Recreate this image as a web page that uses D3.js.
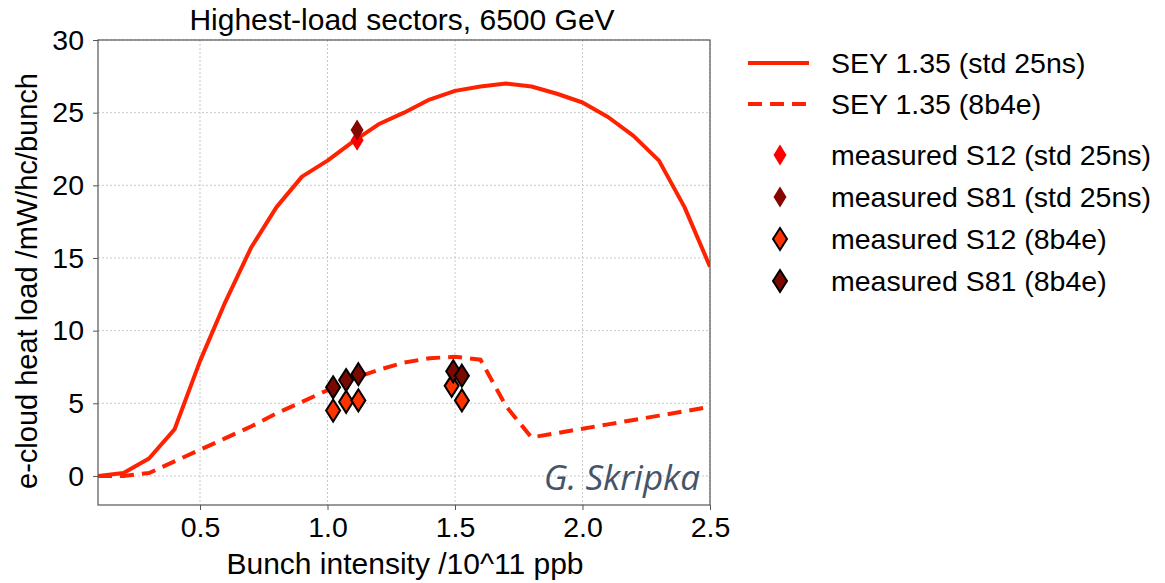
<!DOCTYPE html>
<html>
<head>
<meta charset="utf-8">
<script src="https://cdn.jsdelivr.net/npm/d3@7"></script>
<style>
  html, body { margin: 0; padding: 0; background: #fff; }
  svg { display: block; }
  text { font-family: "Liberation Sans", Arial, sans-serif; fill: #000; }
</style>
</head>
<body>
<svg id="chart" width="1165" height="583"></svg>
<script>
// Simulated heat load vs bunch intensity (SEY 1.35)
const intensity = [0.1, 0.2, 0.3, 0.4, 0.5, 0.6, 0.7, 0.8, 0.9, 1.0, 1.1, 1.2, 1.3,
                   1.4, 1.5, 1.6, 1.7, 1.8, 1.9, 2.0, 2.1, 2.2, 2.3, 2.4, 2.5];
const simStd25 = [0.0, 0.2, 1.2, 3.2, 7.9, 12.0, 15.7, 18.5, 20.6, 21.7, 23.0, 24.2, 25.0,
                  25.9, 26.5, 26.8, 27.0, 26.8, 26.3, 25.7, 24.7, 23.4, 21.7, 18.5, 14.4];
const sim8b4e = [0.0, 0.0, 0.2, 1.0, 1.8, 2.6, 3.4, 4.3, 5.1, 5.9, 6.7, 7.3, 7.8,
                 8.1, 8.2, 8.0, 4.8, 2.65, 2.95, 3.25, 3.55, 3.85, 4.15, 4.45, 4.75];

// Measurements
const measS12std = [{x: 1.116, y: 23.1}];
const measS81std = [{x: 1.116, y: 23.8}];
const measS12_8b4e = [{x: 1.022, y: 4.5}, {x: 1.073, y: 5.1}, {x: 1.121, y: 5.2},
                      {x: 1.487, y: 6.2}, {x: 1.527, y: 5.2}];
const measS81_8b4e = [{x: 1.022, y: 6.1}, {x: 1.073, y: 6.6}, {x: 1.121, y: 7.0},
                      {x: 1.493, y: 7.2}, {x: 1.527, y: 6.9}];

const xTicks = [0.5, 1.0, 1.5, 2.0, 2.5];
const yTicks = [0, 5, 10, 15, 20, 25, 30];

const legendLabels = ["SEY 1.35 (std 25ns)", "SEY 1.35 (8b4e)",
  "measured S12 (std 25ns)", "measured S81 (std 25ns)",
  "measured S12 (8b4e)", "measured S81 (8b4e)"];

const lineColor = "#ff2200";
const colS12std = "#ff0000", colS81std = "#850500";
const colS12b = "#ff3300", colS81b = "#7a0a00";

const svg = d3.select("#chart");
const plot = {left: 98, right: 710, top: 40, bottom: 505};

const x = d3.scaleLinear().domain([0.1, 2.5]).range([plot.left, plot.right]);
const y = d3.scaleLinear().domain([-2, 30]).range([plot.bottom, plot.top]);

// grid
const grid = svg.append("g");
grid.selectAll(".gx").data(xTicks).enter().append("line")
  .attr("x1", d => x(d)).attr("x2", d => x(d))
  .attr("y1", plot.top).attr("y2", plot.bottom)
  .attr("stroke", "#c8c8c8").attr("stroke-width", 1).attr("stroke-dasharray", "2,2");
grid.selectAll(".gy").data(yTicks).enter().append("line")
  .attr("x1", plot.left).attr("x2", plot.right)
  .attr("y1", d => y(d)).attr("y2", d => y(d))
  .attr("stroke", "#c8c8c8").attr("stroke-width", 1).attr("stroke-dasharray", "2,2");

// clip for curves
svg.append("clipPath").attr("id", "clip").append("rect")
  .attr("x", plot.left).attr("y", plot.top)
  .attr("width", plot.right - plot.left).attr("height", plot.bottom - plot.top);

const line = d3.line().x((d, i) => x(intensity[i])).y(d => y(d));

const curves = svg.append("g").attr("clip-path", "url(#clip)");
curves.append("path").datum(simStd25).attr("d", line)
  .attr("fill", "none").attr("stroke", lineColor).attr("stroke-width", 4)
  .attr("stroke-linejoin", "round");
curves.append("path").datum(sim8b4e).attr("d", line)
  .attr("fill", "none").attr("stroke", lineColor).attr("stroke-width", 4)
  .attr("stroke-dasharray", "14,8");

// thin diamond marker path
function diamond(w, h) {
  return `M0,${-h/2}L${w/2},0L0,${h/2}L${-w/2},0Z`;
}

const marks = svg.append("g");
function drawMarkers(data, fill, stroke, w, h) {
  marks.selectAll(null).data(data).enter().append("path")
    .attr("transform", d => `translate(${x(d.x)},${y(d.y)})`)
    .attr("d", diamond(w, h))
    .attr("fill", fill)
    .attr("stroke", stroke || "none")
    .attr("stroke-width", stroke ? 2 : 0)
    .attr("stroke-linejoin", "miter");
}
drawMarkers(measS12std, colS12std, null, 13, 21);
drawMarkers(measS81std, colS81std, null, 13, 21);
drawMarkers(measS12_8b4e, colS12b, "#000", 14, 22);
drawMarkers(measS81_8b4e, colS81b, "#000", 14, 22);

// axes
const xAxis = d3.axisBottom(x).tickValues(xTicks).tickFormat(d3.format(".1f")).tickSize(5).tickPadding(7);
const yAxis = d3.axisLeft(y).tickValues(yTicks).tickFormat(d3.format("d")).tickSize(5).tickPadding(9);

const gx = svg.append("g").attr("transform", `translate(0,${plot.bottom})`).call(xAxis);
const gy = svg.append("g").attr("transform", `translate(${plot.left},0)`).call(yAxis);
[gx, gy].forEach(g => {
  g.select(".domain").remove();
  g.selectAll(".tick line").attr("stroke", "#555");
  g.selectAll(".tick text").attr("font-size", 28.5).attr("fill", "#000")
    .style("font-family", '"Liberation Sans", Arial, sans-serif');
});

// frame
svg.append("rect")
  .attr("x", plot.left).attr("y", plot.top)
  .attr("width", plot.right - plot.left).attr("height", plot.bottom - plot.top)
  .attr("fill", "none").attr("stroke", "#555").attr("stroke-width", 1.2);

// title and axis labels
svg.append("text").attr("x", 402).attr("y", 30).attr("text-anchor", "middle")
  .attr("font-size", 30).text("Highest-load sectors, 6500 GeV");
svg.append("text").attr("x", 405).attr("y", 574).attr("text-anchor", "middle")
  .attr("font-size", 30).text("Bunch intensity /10^11 ppb");
svg.append("text").attr("transform", `translate(37,281) rotate(-90)`)
  .attr("text-anchor", "middle").attr("font-size", 29)
  .text("e-cloud heat load /mW/hc/bunch");

// author note
svg.append("text").attr("x", 700).attr("y", 490).attr("text-anchor", "end")
  .attr("font-size", 35).attr("font-style", "italic")
  .style("font-family", '"Open Sans", sans-serif').style("fill", "#44546a")
  .text("G. Skripka");

// legend
const leg = svg.append("g");
const legY = [63, 104, 155, 197, 239, 281];
leg.append("line").attr("x1", 748).attr("x2", 809).attr("y1", legY[0]).attr("y2", legY[0])
  .attr("stroke", lineColor).attr("stroke-width", 4);
leg.append("line").attr("x1", 748).attr("x2", 809).attr("y1", legY[1]).attr("y2", legY[1])
  .attr("stroke", lineColor).attr("stroke-width", 4).attr("stroke-dasharray", "14,8");
const legMarks = [
  {fill: colS12std, stroke: null, w: 13, h: 21},
  {fill: colS81std, stroke: null, w: 13, h: 21},
  {fill: colS12b, stroke: "#000", w: 14, h: 22},
  {fill: colS81b, stroke: "#000", w: 14, h: 22}
];
legMarks.forEach((m, i) => {
  leg.append("path").attr("transform", `translate(780,${legY[i + 2]})`)
    .attr("d", diamond(m.w, m.h)).attr("fill", m.fill)
    .attr("stroke", m.stroke || "none").attr("stroke-width", m.stroke ? 2 : 0);
});
legendLabels.forEach((t, i) => {
  leg.append("text").attr("x", 831).attr("y", legY[i]).attr("dy", "0.35em")
    .attr("font-size", 28.5).text(t);
});
</script>
</body>
</html>
